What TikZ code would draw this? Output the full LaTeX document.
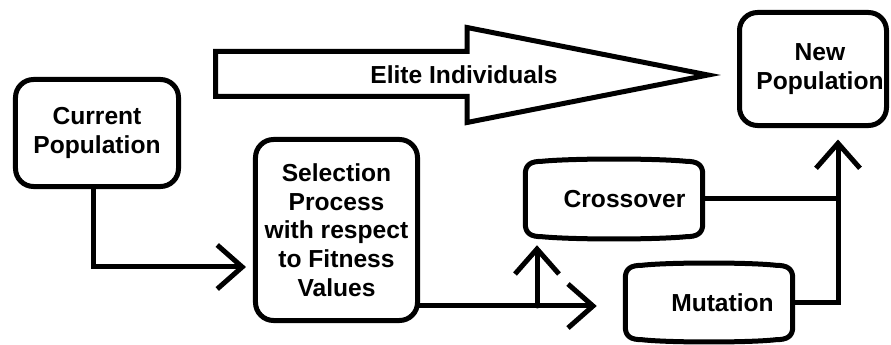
\documentclass[tikz,border=0pt]{standalone}
\usepackage{fontspec}
\setmainfont{Liberation Sans}
\usetikzlibrary{arrows.meta,calc}

\tikzset{
  thickline/.style={line width=0.15cm},
  popbox/.style={thickline, draw, rounded corners=0.54cm, align=center, inner sep=0pt,
    font=\bfseries\fontsize{21}{24.5}\selectfont},
  drumbox/.style={align=center, inner sep=0pt, font=\bfseries\fontsize{21}{24.5}\selectfont},
  plainline/.style={thickline, line cap=round},
  flowline/.style={thickline, line cap=round, -{Straight Barb[length=0.75cm,width=1.32cm]}},
}

% barrel shaped outline round a named node
\newcommand{\drumframe}[1]{%
  \draw[thickline, line join=round] ($(#1.north west)+(0,14)$)
    .. controls ($(#1.north west)+(0,4)$) and ($(#1.north west)+(6,1)$) .. ($(#1.north west)+(17,1)$)
    .. controls ($(#1.north)+(-40,-2)$) and ($(#1.north)+(40,-2)$) .. ($(#1.north east)+(-17,1)$)
    .. controls ($(#1.north east)+(-6,1)$) and ($(#1.north east)+(0,4)$) .. ($(#1.north east)+(0,14)$)
    -- ($(#1.south east)+(0,-14)$)
    .. controls ($(#1.south east)+(0,-4)$) and ($(#1.south east)+(-6,-1)$) .. ($(#1.south east)+(-17,-1)$)
    .. controls ($(#1.south)+(40,2)$) and ($(#1.south)+(-40,2)$) .. ($(#1.south west)+(17,-1)$)
    .. controls ($(#1.south west)+(6,-1)$) and ($(#1.south west)+(0,-4)$) .. ($(#1.south west)+(0,-14)$)
    -- cycle;}

\begin{document}
\begin{tikzpicture}[x=0.03cm, y=-0.03cm]
    \useasboundingbox (0,0) rectangle (891,345);

    % Boxes
    \node[popbox, minimum width=4.89cm, minimum height=3.21cm] (current) at (97,133) {Current\\Population};
    \node[popbox, minimum width=4.86cm, minimum height=5.43cm] (select) at (336.5,230)
        {Selection\\Process\\with respect\\to Fitness\\Values};
    \node[popbox, minimum width=4.41cm, minimum height=3.39cm] (newpop) at (813,69)
        {\hspace*{0.42cm}New\\\hspace*{0.42cm}Population};

    % Operators
    \node[drumbox, minimum width=5.31cm, minimum height=2.31cm] (crossover) at (614,199) {\hspace*{0.63cm}Crossover};
    \node[drumbox, minimum width=5.01cm, minimum height=2.28cm] (mutation) at (709,302.5) {\hspace*{0.81cm}Mutation};
    \drumframe{crossover}
    \drumframe{mutation}

    % Elite arrow
    \draw[thickline] (215.5,51.5) -- (467,51.5) -- (467,27.5) -- (708,75) -- (467,122.5)
        -- (467,96.5) -- (215.5,96.5) -- cycle;
    \node[font=\bfseries\fontsize{21}{24.5}\selectfont] (elite) at (464,75) {Elite Individuals};

    % Connectors
    \draw[flowline, shorten >=0.21cm] ($(current.south)+(-4,0)$) |- ($(select.west)+(0,37)$);
    \coordinate (split) at (537,306);
    \draw[plainline] ($(select.east)+(0,76)$) -- (split);
    \draw[flowline, shorten >=0.855cm] (split) -- (split -| mutation.west);
    \draw[flowline, shorten >=0.225cm] (split) -- (split |- crossover.south);
    \coordinate (merge) at ($(newpop.south)+(25,0)$);
    \draw[plainline] (crossover.east) -- (crossover.east -| merge);
    \draw[flowline, shorten >=0.345cm] (mutation.east) -| (merge);
\end{tikzpicture}
\end{document}
